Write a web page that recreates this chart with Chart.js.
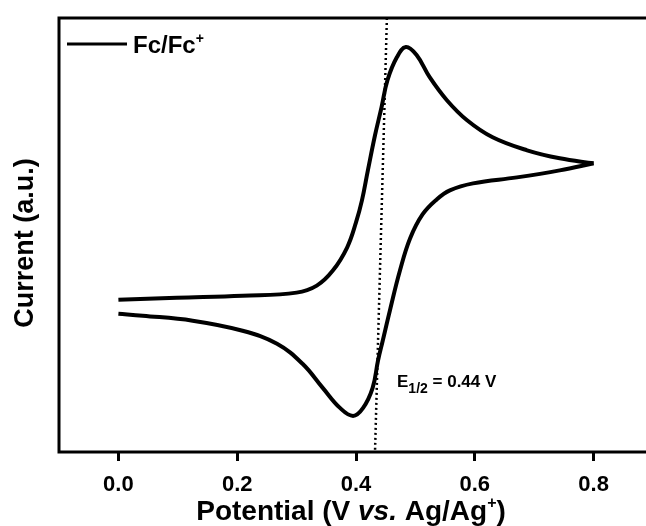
<!DOCTYPE html>
<html>
<head>
<meta charset="utf-8">
<script src="https://cdn.jsdelivr.net/npm/chart.js@4.4.1/dist/chart.umd.min.js"></script>
<style>
  html, body { margin: 0; padding: 0; background: #fff; overflow: hidden; }
  #wrap { width: 646px; height: 526px; overflow: hidden; }
</style>
</head>
<body>
<div id="wrap"><canvas id="cv" width="660" height="526"></canvas></div>
<script>
// forward scan 0 -> 0.8 V
const potentialFwd = [0.000, 0.098, 0.209, 0.300, 0.334, 0.361, 0.385, 0.400, 0.410, 0.420, 0.432, 0.443, 0.453, 0.469, 0.484, 0.502, 0.524, 0.553, 0.587, 0.630, 0.688, 0.743, 0.800];
const currentFwd   = [152, 154, 156, 159, 166, 181, 204, 229, 251, 281, 316, 344, 371, 394, 404, 396, 374, 351, 331, 314, 301, 293, 288];
// reverse scan 0.8 -> 0 V
const potentialRev = [0.800, 0.743, 0.671, 0.597, 0.558, 0.536, 0.512, 0.491, 0.474, 0.457, 0.445, 0.437, 0.428, 0.412, 0.395, 0.373, 0.344, 0.310, 0.267, 0.209, 0.125, 0.041, 0.000];
const currentRev   = [288, 281, 274, 268, 261, 252, 237, 213, 181, 141, 111, 91, 64, 44, 36, 44, 64, 88, 108, 121, 131, 136, 138];
// E1/2 guide line (top, bottom)
const halfX = [0.452, 0.432];
const halfY = [433, 0];
const xTicks = [0, 0.2, 0.4, 0.6, 0.8];

const FONT = '"Liberation Sans", Arial, sans-serif';

function pts(xs, ys) {
  return xs.map((x, i) => ({x: x, y: ys[i]}));
}

// draw a row of text pieces with different fonts
function drawParts(ctx, parts, x, y, align) {
  let w = 0;
  parts.forEach(p => { ctx.font = p.font; w += ctx.measureText(p.text).width; });
  let cx = align === 'center' ? x - w / 2 : x;
  parts.forEach(p => {
    ctx.font = p.font;
    ctx.fillText(p.text, cx, y + (p.dy || 0));
    cx += ctx.measureText(p.text).width;
  });
}

const decor = {
  id: 'decor',
  afterDraw(chart) {
    const ctx = chart.ctx;
    const a = chart.chartArea;
    ctx.save();
    ctx.strokeStyle = '#000';
    ctx.lineWidth = 3;
    ctx.strokeRect(a.left, a.top, a.right - a.left, a.bottom - a.top);

    ctx.fillStyle = '#000';
    ctx.textBaseline = 'alphabetic';

    // legend
    ctx.beginPath();
    ctx.moveTo(67, 44);
    ctx.lineTo(127, 44);
    ctx.stroke();
    drawParts(ctx, [
      {text: 'Fc/Fc', font: 'bold 24px ' + FONT},
      {text: '+', font: 'bold 14px ' + FONT, dy: -10}
    ], 133, 53, 'left');

    // E1/2 label
    drawParts(ctx, [
      {text: 'E', font: 'bold 17px ' + FONT},
      {text: '1/2', font: 'bold 14px ' + FONT, dy: 6},
      {text: ' = 0.44 V', font: 'bold 17px ' + FONT}
    ], 397, 387, 'left');

    // x title
    drawParts(ctx, [
      {text: 'Potential (V ', font: 'bold 28px ' + FONT},
      {text: 'vs.', font: 'italic bold 28px ' + FONT},
      {text: ' Ag/Ag', font: 'bold 28px ' + FONT},
      {text: '+', font: 'bold 16px ' + FONT, dy: -12},
      {text: ')', font: 'bold 28px ' + FONT}
    ], 351, 520, 'center');

    // y title
    ctx.translate(33, 243);
    ctx.rotate(-Math.PI / 2);
    ctx.textAlign = 'center';
    ctx.font = 'bold 27px ' + FONT;
    ctx.fillText('Current (a.u.)', 0, 0);
    ctx.restore();
  }
};

const myChart = new Chart(document.getElementById('cv'), {
  type: 'scatter',
  data: {
    datasets: [{
      data: pts(potentialFwd, currentFwd),
      showLine: true,
      borderColor: '#000',
      borderWidth: 4,
      pointRadius: 0,
      tension: 0.4
    }, {
      data: pts(potentialRev, currentRev),
      showLine: true,
      borderColor: '#000',
      borderWidth: 4,
      pointRadius: 0,
      tension: 0.4
    }, {
      data: pts(halfX, halfY),
      showLine: true,
      borderColor: '#000',
      borderWidth: 2.5,
      borderDash: [2, 3],
      pointRadius: 0
    }]
  },
  options: {
    responsive: false,
    animation: false,
    devicePixelRatio: 1,
    layout: { padding: { top: 18, right: 7, left: 0, bottom: 0 } },
    plugins: {
      legend: { display: false },
      tooltip: { enabled: false }
    },
    scales: {
      x: {
        type: 'linear',
        min: -0.1,
        max: 0.9,
        afterBuildTicks: (s) => { s.ticks = xTicks.map(v => ({value: v})); },
        afterFit: (s) => { s.height = 74; },
        border: { display: false },
        grid: {
          drawOnChartArea: false,
          tickLength: 9,
          tickWidth: 3,
          tickColor: '#000'
        },
        ticks: {
          color: '#000',
          padding: 11,
          font: { family: FONT, size: 22, weight: 'bold' },
          callback: (v) => v.toFixed(1)
        }
      },
      y: {
        min: 0,
        max: 433,
        afterFit: (s) => { s.width = 59; },
        border: { display: false },
        grid: { display: false },
        ticks: { display: false }
      }
    }
  },
  plugins: [decor]
});
</script>
</body>
</html>
